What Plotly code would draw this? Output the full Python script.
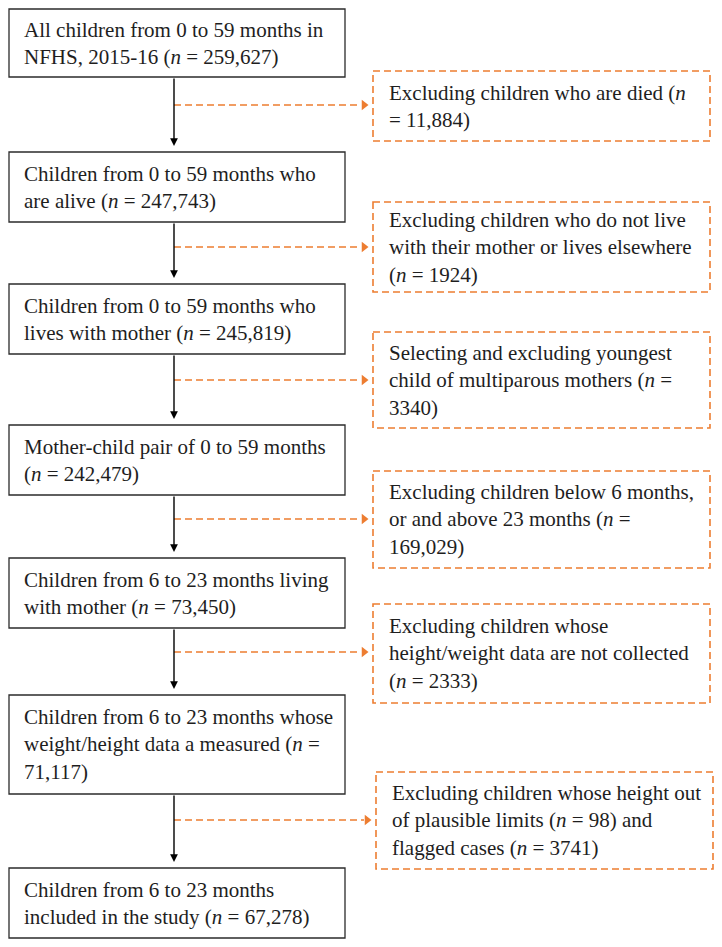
import plotly.graph_objects as go

# flowchart text: main pathway and exclusions
main_n = ["259,627", "247,743", "245,819", "242,479", "73,450", "71,117", "67,278"]
main_text = [
    "All children from 0 to 59 months in<br>NFHS, 2015-16 (<i>n</i> = {})",
    "Children from 0 to 59 months who<br>are alive (<i>n</i> = {})",
    "Children from 0 to 59 months who<br>lives with mother (<i>n</i> = {})",
    "Mother-child pair of 0 to 59 months<br>(<i>n</i> = {})",
    "Children from 6 to 23 months living<br>with mother (<i>n</i> = {})",
    "Children from 6 to 23 months whose<br>weight/height data a measured (<i>n</i> =<br>{})",
    "Children from 6 to 23 months<br>included in the study (<i>n</i> = {})",
]
excl_n = ["11,884", "1924", "3340", "169,029", "2333", ("98", "3741")]
excl_text = [
    "Excluding children who are died (<i>n</i><br>= {})",
    "Excluding children who do not live<br>with their mother or lives elsewhere<br>(<i>n</i> = {})",
    "Selecting and excluding youngest<br>child of multiparous mothers (<i>n</i> =<br>{})",
    "Excluding children below 6 months,<br>or and above 23 months (<i>n</i> =<br>{})",
    "Excluding children whose<br>height/weight data are not collected<br>(<i>n</i> = {})",
    "Excluding children whose height out<br>of plausible limits (<i>n</i> = {}) and<br>flagged cases (<i>n</i> = {})",
]

# layout (page pixels, y downwards); the page body has an 8px margin
W, H, PAD = 722, 947, 8
main_x = (9, 345)
main_y = [(9, 77), (152, 222), (284, 354), (425, 495), (558, 628), (695, 794), (868, 938)]
excl_x = [(373, 710)] * 5 + [(376, 713)]
excl_y = [(71, 141), (202, 292), (332, 428), (471, 568), (604, 703), (772, 869)]
branch_y = [105, 247, 380, 519, 652, 820]
stem_x = 174
orange = "#ED7D31"
txt_font = dict(family="Liberation Serif, Times New Roman, serif", size=21, color="#1e1e1e")

fig = go.Figure()
shapes, annos = [], []

for i, (t, n) in enumerate(zip(main_text, main_n)):
    y0, y1 = main_y[i]
    shapes.append(dict(type="rect", x0=main_x[0], x1=main_x[1], y0=y0, y1=y1,
                       line=dict(color="#2b2b2b", width=1.3), fillcolor="white"))
    annos.append(dict(x=main_x[0] + 13, y=(y0 + y1) / 2, text=t.format(n),
                      xanchor="left", yanchor="middle", align="left",
                      showarrow=False, font=txt_font))
    if i < len(main_y) - 1:
        nxt = main_y[i + 1][0]
        annos.append(dict(x=stem_x, y=nxt - 6, ax=stem_x, ay=y1, axref="x", ayref="y",
                          xref="x", yref="y", text="", showarrow=True, arrowhead=2,
                          arrowsize=1.1, arrowwidth=1.4, arrowcolor="black"))

for i, (t, n) in enumerate(zip(excl_text, excl_n)):
    y0, y1 = excl_y[i]
    x0, x1 = excl_x[i]
    vals = n if isinstance(n, tuple) else (n,)
    shapes.append(dict(type="rect", x0=x0, x1=x1, y0=y0, y1=y1,
                       line=dict(color=orange, width=1.6, dash="7px,4px")))
    annos.append(dict(x=x0 + 14, y=(y0 + y1) / 2, text=t.format(*vals),
                      xanchor="left", yanchor="middle", align="left",
                      showarrow=False, font=txt_font))
    by = branch_y[i]
    shapes.append(dict(type="line", x0=stem_x, x1=x0 - 12, y0=by, y1=by,
                       line=dict(color=orange, width=1.6, dash="7px,4px")))

fig.add_trace(go.Scatter(x=[excl_x[i][0] - 9 for i in range(len(branch_y))], y=branch_y,
                         mode="markers", hoverinfo="skip",
                         marker=dict(symbol="triangle-right", size=9, color=orange)))

fig.update_layout(width=W - PAD, height=H - PAD, margin=dict(l=0, r=0, t=0, b=0),
                  plot_bgcolor="white", paper_bgcolor="white", showlegend=False,
                  shapes=shapes, annotations=annos)
fig.update_xaxes(range=[PAD, W], visible=False, fixedrange=True)
fig.update_yaxes(range=[H, PAD], visible=False, fixedrange=True)

fig.write_html("out.html")
